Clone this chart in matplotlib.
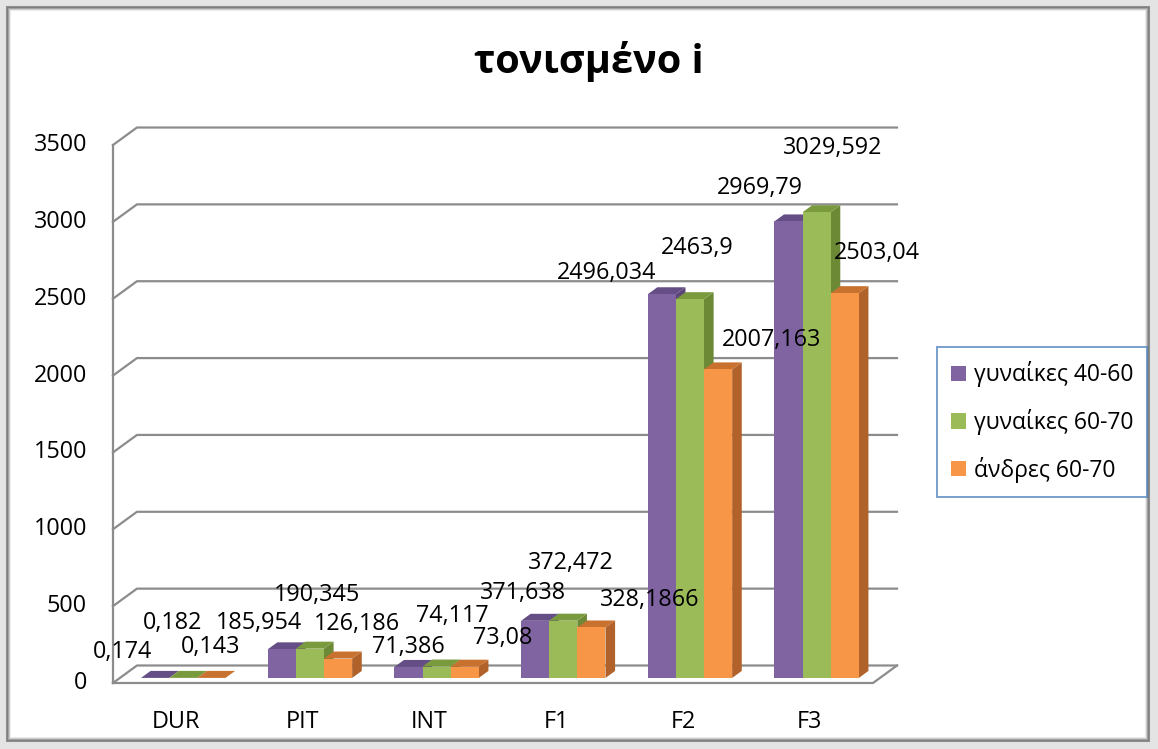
import matplotlib.pyplot as plt
from matplotlib.patches import Polygon, Rectangle, Patch
import numpy as np

plt.rcParams['font.family'] = ['Open Sans', 'DejaVu Sans']

categories = ['DUR', 'PIT', 'INT', 'F1', 'F2', 'F3']
series_names = ['γυναίκες 40-60', 'γυναίκες 60-70', 'άνδρες 60-70']
women_40_60 = [0.174, 185.954, 71.386, 371.638, 2496.034, 2969.79]
women_60_70 = [0.182, 190.345, 74.117, 372.472, 2463.9, 3029.592]
men_60_70 = [0.143, 126.186, 73.08, 328.1866, 2007.163, 2503.04]
y_ticks = [0, 500, 1000, 1500, 2000, 2500, 3000, 3500]

series = [women_40_60, women_60_70, men_60_70]
front_colors = ['#8064A2', '#9BBB59', '#F79646']
top_colors = ['#654E85', '#7A9A3E', '#C9712E']
side_colors = ['#5C4679', '#6C8936', '#B0622A']

# data label offsets (pixels, from the top of each bar) as placed in the original
label_offsets = [
    [(-33, 26), (-23, 26), (0, 20), (-12, 28), (-55, 21), (-29, 33)],
    [(-11, 55), (7, 54), (16, 51), (8, 58), (7, 51), (16, 64)],
    [(-1, 31), (19, 35), (38, 29), (58, 27), (53, 29), (32, 40)],
]

W, H = 1158, 749
fig = plt.figure(figsize=(W / 100, H / 100), dpi=100)
fig.patch.set_facecolor('#e4e4e4')


def px(x, y):
    return x / W, 1 - y / H


# chart frame with a soft shadow on the border
for k, a in enumerate([0.6, 0.4, 0.22, 0.1]):
    x0, y0 = px(7 + k, 741 - k)
    x1, y1 = px(1149 - k, 7 + k)
    fig.patches.append(Rectangle((x0, y0), x1 - x0, y1 - y0, transform=fig.transFigure,
                                 facecolor='white' if k == 0 else 'none',
                                 edgecolor=(0.35, 0.35, 0.35, a), lw=1.5, zorder=-5))

ax = fig.add_axes([0, 0, 1, 1])
ax.set_facecolor('none')
ax.axis('off')

# pixel mapping of the original plot area
x_org, x_step = 176.3, 126.67
y_org, y_scale = 683.0, 0.15371
ax.set_xlim(-x_org / x_step, (W - x_org) / x_step)
ax.set_ylim((y_org - H) / y_scale, y_org / y_scale)

DX = 24 / x_step
DY = 17.5 / y_scale
grid_c = '#8c8c8c'
xl, xr = -0.5, len(categories) - 0.5

for v in y_ticks:
    ax.plot([xl, xl + DX, xr + DX], [v, v + DY, v + DY], color=grid_c, lw=1.6, zorder=1)
    ax.text(-0.705, v, str(v), ha='right', va='center', fontsize=16.8)
ax.plot([xl, xr, xr + DX], [0, 0, DY], color=grid_c, lw=1.6, zorder=1)
ax.plot([xl, xl], [0, y_ticks[-1]], color=grid_c, lw=1.6, zorder=1)

for i, c in enumerate(categories):
    ax.text(i, -255, c, ha='center', va='center', fontsize=16.8)

w = 1 / 4.5
fd, bd = 0.29, 0.4
z = 3
for i in range(len(categories)):
    for s, vals in enumerate(series):
        v = vals[i]
        x0 = i - 1.5 * w + s * w + fd * DX
        y0 = fd * DY
        ddx, ddy = bd * DX, bd * DY
        ax.add_patch(Polygon([(x0 + w, y0), (x0 + w, y0 + v), (x0 + w + ddx, y0 + v + ddy),
                              (x0 + w + ddx, y0 + ddy)], closed=True,
                             facecolor=side_colors[s], edgecolor='none', zorder=z))
        ax.add_patch(Polygon([(x0, y0 + v), (x0 + w, y0 + v), (x0 + w + ddx, y0 + v + ddy),
                              (x0 + ddx, y0 + v + ddy)], closed=True,
                             facecolor=top_colors[s], edgecolor='none', zorder=z))
        ax.add_patch(Rectangle((x0, y0), w, v, facecolor=front_colors[s],
                               edgecolor='none', zorder=z + 0.5))
        z += 1
        ox, oy = label_offsets[s][i]
        ax.annotate(str(v).replace('.', ','), (x0 + w / 2, y0 + v),
                    xytext=(ox, oy), textcoords='offset pixels',
                    ha='center', va='center', fontsize=16.8, zorder=50)

fig.text(*px(589, 61), 'τονισμένο i', ha='center', va='center',
         fontsize=28.5, fontweight='bold')

handles = [Patch(facecolor=c, edgecolor='none') for c in front_colors]
leg = fig.legend(handles, series_names, loc='center left',
                 bbox_to_anchor=px(937, 422), fontsize=16.5, frameon=True,
                 fancybox=False, edgecolor='#4A7EBB', handlelength=0.65,
                 handleheight=0.65, handletextpad=0.35, labelspacing=0.95,
                 borderpad=0.6, borderaxespad=0)
leg.get_frame().set_linewidth(1.3)

fig.savefig('out.png', dpi=100)
